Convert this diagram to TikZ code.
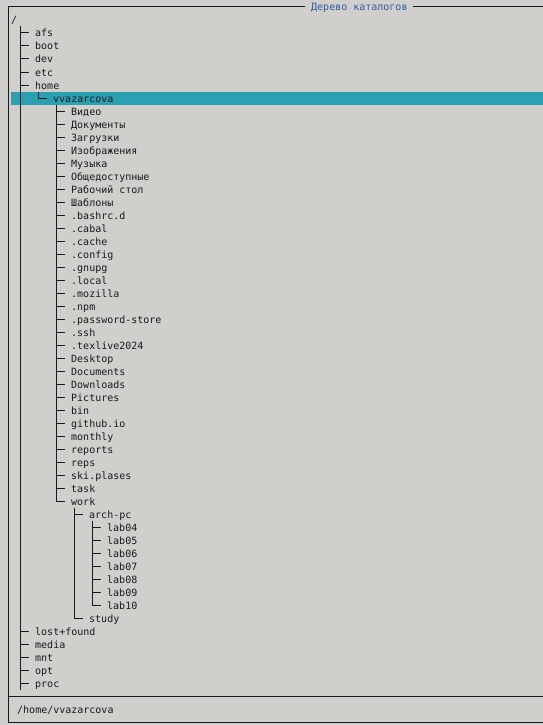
\documentclass[tikz,border=0pt]{standalone}
\usepackage{fontspec}
\setmonofont{DejaVu Sans Mono}
\usetikzlibrary{calc}
\definecolor{bg}{HTML}{D0CFCB}
\definecolor{hl}{HTML}{2AA1B3}
\definecolor{ttl}{HTML}{2F5E9E}
\definecolor{ink}{HTML}{1A1A1A}
\begin{document}
\begin{tikzpicture}[x=1pt,y=-1pt,
  txt/.style={anchor=base west,inner sep=0pt,font=\ttfamily\fontsize{10}{13}\selectfont,text=ink},
  tree/.style={draw=ink,line width=1pt},
  frame/.style={draw=ink,line width=1pt}]
\fill[bg] (0,0) rectangle (543,725);
\useasboundingbox (0,0) rectangle (543,725);
\fill[hl] (11,91.5) rectangle (543,104.5);
% frame
\draw[frame] (543,7) -- (413,7);
\draw[frame] (305,7) -- (8,7) -- (8,722) -- (543,722);
\draw[frame] (8,696) -- (543,696);
\node[txt,text=ttl] (title) at (311,11) {Дерево каталогов};
\node[txt] (path) at (17,713) {/home/vvazarcova};
% rows
\node[txt] (n0) at (11,24) {/};
\foreach \i/\c/\t in {1/4/afs,2/4/boot,3/4/dev,4/4/etc,5/4/home,6/7/vvazarcova,
  7/10/Видео,8/10/Документы,9/10/Загрузки,10/10/Изображения,11/10/Музыка,
  12/10/Общедоступные,13/10/{Рабочий стол},14/10/Шаблоны,15/10/.bashrc.d,
  16/10/.cabal,17/10/.cache,18/10/.config,19/10/.gnupg,20/10/.local,
  21/10/.mozilla,22/10/.npm,23/10/.password-store,24/10/.ssh,25/10/.texlive2024,
  26/10/Desktop,27/10/Documents,28/10/Downloads,29/10/Pictures,30/10/bin,
  31/10/github.io,32/10/monthly,33/10/reports,34/10/reps,35/10/ski.plases,
  36/10/task,37/10/work,38/13/arch-pc,39/16/lab04,40/16/lab05,41/16/lab06,
  42/16/lab07,43/16/lab08,44/16/lab09,45/16/lab10,46/13/study,
  47/4/lost+found,48/4/media,49/4/mnt,50/4/opt,51/4/proc}{
  \node[txt] (n\i) at ({11+6*\c},{24+13*\i}) {\t};
  \coordinate (c\i) at ({6*\c-4},{20+13*\i});
  \draw[tree] (c\i) -- ++(8.5,0);
}
% vertical branches
\draw[tree] ($(c1)+(0,-6.5)$) -- ($(c51)+(0,6.5)$);
\draw[tree] ($(c6)+(0,-6.5)$) -- ($(c6)+(0,0.5)$);
\draw[tree] ($(c7)+(0,-6.5)$) -- ($(c37)+(0,0.5)$);
\draw[tree] ($(c38)+(0,-6.5)$) -- ($(c46)+(0,0.5)$);
\draw[tree] ($(c39)+(0,-6.5)$) -- ($(c45)+(0,0.5)$);
\end{tikzpicture}
\end{document}
